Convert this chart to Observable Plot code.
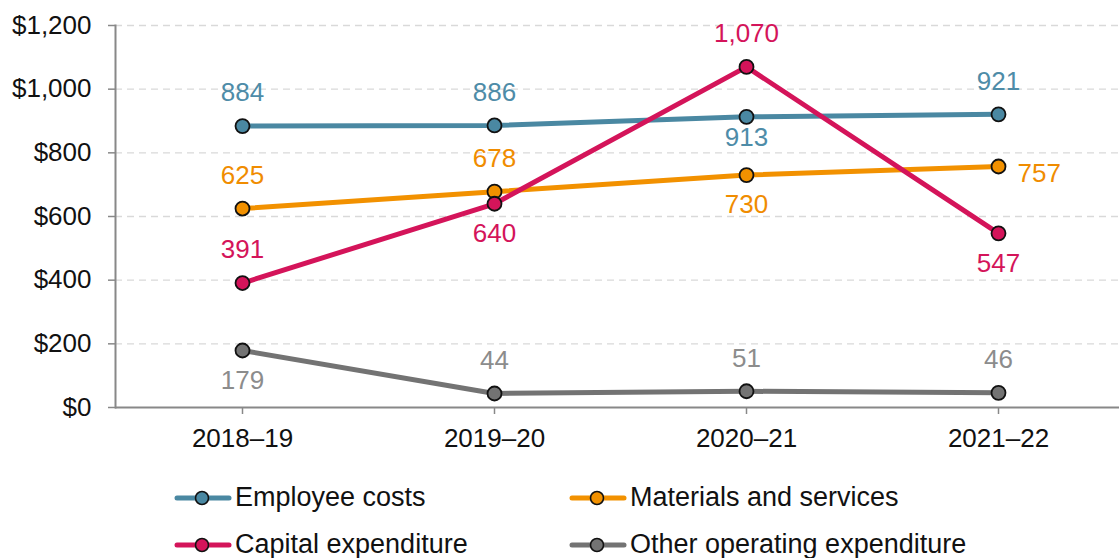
<!DOCTYPE html>
<html>
<head>
<meta charset="utf-8">
<script src="https://cdn.jsdelivr.net/npm/d3@7"></script>
<script src="https://cdn.jsdelivr.net/npm/@observablehq/plot@0.6"></script>
<style>
  html, body { margin: 0; padding: 0; background: #fff; }
  body { width: 1119px; height: 558px; overflow: hidden; font-family: "Liberation Sans", Arial, sans-serif; }
  #legend { display: grid; grid-template-columns: 395px 500px; padding-left: 174px; }
  .item { display: flex; align-items: center; height: 47px; font-size: 27px; color: #111; white-space: nowrap; }
  .item svg { margin-right: 3px; flex: none; }
</style>
</head>
<body>
<div id="chart"></div>
<div id="legend"></div>
<script>
const years = ["2018–19", "2019–20", "2020–21", "2021–22"];
const seriesNames = ["Employee costs", "Materials and services", "Capital expenditure", "Other operating expenditure"];
const employeeCosts = [884, 886, 913, 921];
const materialsServices = [625, 678, 730, 757];
const capitalExpenditure = [391, 640, 1070, 547];
const otherOperating = [179, 44, 51, 46];
const yTicks = [0, 200, 400, 600, 800, 1000, 1200];

const lineColors = ["#4a88a2", "#f29100", "#d4145a", "#737373"];
const labelColors = ["#4e8ca8", "#f08c00", "#d4145a", "#8c8c8c"];
// label placement relative to each point
const placements = [
  ["above", "above", "belowNear", "above"],
  ["above", "above", "below", "right"],
  ["above", "below", "above", "below"],
  ["below", "above", "above", "above"]
];

const allValues = [employeeCosts, materialsServices, capitalExpenditure, otherOperating];
const data = [];
allValues.forEach((vals, si) => {
  vals.forEach((v, i) => {
    data.push({series: seriesNames[si], year: years[i], value: v, si, place: placements[si][i]});
  });
});

const fmtDollar = d => "$" + d3.format(",")(d);
const fmtLabel = d => d3.format(",")(d);

const textMark = (place, dx, dy, anchor) => Plot.text(data.filter(d => d.place === place), {
  x: "year", y: "value", text: d => fmtLabel(d.value),
  fill: d => labelColors[d.si], dx, dy, textAnchor: anchor, fontSize: 26
});

const chart = Plot.plot({
  width: 1119,
  height: 474,
  marginLeft: 115,
  marginRight: 0,
  marginTop: 25,
  marginBottom: 67,
  style: {fontFamily: "'Liberation Sans', Arial, sans-serif", fontSize: "26px", color: "#111", background: "#fff", overflow: "visible"},
  x: {domain: years, type: "point", range: [115, 1124], padding: 0.5, label: null},
  y: {domain: [0, 1200], label: null},
  color: {domain: seriesNames, range: lineColors},
  marks: [
    Plot.ruleY(yTicks.filter(d => d > 0), {stroke: "#d9d9d9", strokeWidth: 1.3, strokeDasharray: "7,5"}),
    Plot.axisY({ticks: yTicks, tickFormat: fmtDollar, tickSize: 7, tickPadding: 17, stroke: "#888", strokeWidth: 1.5, fontSize: 26, label: null}),
    Plot.axisX({tickSize: 7, tickPadding: 14, stroke: "#888", strokeWidth: 1.5, fontSize: 26, label: null}),
    Plot.frame({anchor: "left", stroke: "#888", strokeWidth: 2}),
    Plot.ruleY([0], {stroke: "#888", strokeWidth: 2}),
    Plot.line(data, {x: "year", y: "value", z: "series", stroke: "series", strokeWidth: 5}),
    Plot.dot(data, {x: "year", y: "value", fill: "series", stroke: "#111", strokeWidth: 1.8, r: 7}),
    textMark("above", 0, -33, "middle"),
    textMark("below", 0, 30, "middle"),
    textMark("belowNear", 0, 21, "middle"),
    textMark("right", 19, 7, "start")
  ]
});
document.getElementById("chart").appendChild(chart);

const legend = document.getElementById("legend");
seriesNames.forEach((name, i) => {
  const item = document.createElement("div");
  item.className = "item";
  item.innerHTML = `<svg width="58" height="20"><line x1="3" x2="55" y1="10" y2="10" stroke="${lineColors[i]}" stroke-width="5" stroke-linecap="round"/><circle cx="28" cy="10" r="6.5" fill="${lineColors[i]}" stroke="#111" stroke-width="1.6"/></svg><span>${name}</span>`;
  legend.appendChild(item);
});
</script>
</body>
</html>
